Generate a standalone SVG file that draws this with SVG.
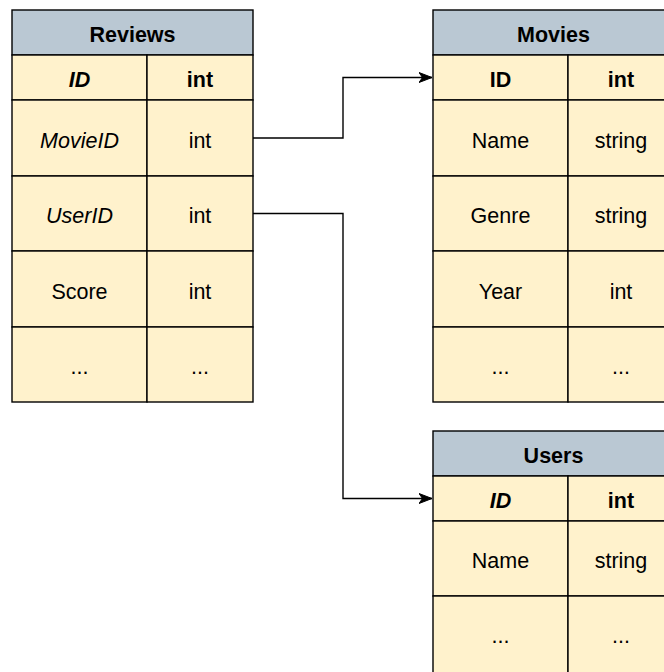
<svg xmlns="http://www.w3.org/2000/svg" width="664" height="672" viewBox="0 0 664 672">
  <style>
    .hdr { fill: #bac8d3; stroke: #000; stroke-width: 1.4; }
    .cell { fill: #fff2cc; stroke: #000; stroke-width: 1.4; }
    text { font-family: "Liberation Sans", Arial, sans-serif; font-size: 21.5px; fill: #000; text-anchor: middle; }
    .b { font-weight: bold; }
    .i { font-style: italic; }
    .edge { fill: none; stroke: #000; stroke-width: 1.4; }
  </style>
  <defs>
    <marker id="arrow" markerUnits="userSpaceOnUse" markerWidth="14" markerHeight="12" refX="13" refY="6" orient="auto">
      <path d="M0,1 L13,6 L0,11 L3.5,6 Z" fill="#000" stroke="#000" stroke-width="1"/>
    </marker>
  </defs>

  <rect width="664" height="672" fill="#fff"/>

  <!-- Reviews table -->
  <g id="reviews">
    <rect class="hdr" x="12" y="10" width="241" height="45"/>
    <text class="b" x="132.5" y="42">Reviews</text>
    <rect class="cell" x="12" y="55" width="135" height="45"/>
    <rect class="cell" x="147" y="55" width="106" height="45"/>
    <rect class="cell" x="12" y="100" width="135" height="76"/>
    <rect class="cell" x="147" y="100" width="106" height="76"/>
    <rect class="cell" x="12" y="176" width="135" height="75"/>
    <rect class="cell" x="147" y="176" width="106" height="75"/>
    <rect class="cell" x="12" y="251" width="135" height="76"/>
    <rect class="cell" x="147" y="251" width="106" height="76"/>
    <rect class="cell" x="12" y="327" width="135" height="75"/>
    <rect class="cell" x="147" y="327" width="106" height="75"/>
    <text class="b i" x="79.5" y="87">ID</text>
    <text class="b" x="200" y="87">int</text>
    <text class="i" x="79.5" y="147.5">MovieID</text>
    <text x="200" y="147.5">int</text>
    <text class="i" x="79.5" y="223">UserID</text>
    <text x="200" y="223">int</text>
    <text x="79.5" y="298.5">Score</text>
    <text x="200" y="298.5">int</text>
    <text x="79.5" y="374">...</text>
    <text x="200" y="374">...</text>
  </g>

  <!-- Movies table -->
  <g id="movies">
    <rect class="hdr" x="433" y="10" width="241" height="45"/>
    <text class="b" x="553.5" y="42">Movies</text>
    <rect class="cell" x="433" y="55" width="135" height="45"/>
    <rect class="cell" x="568" y="55" width="106" height="45"/>
    <rect class="cell" x="433" y="100" width="135" height="76"/>
    <rect class="cell" x="568" y="100" width="106" height="76"/>
    <rect class="cell" x="433" y="176" width="135" height="75"/>
    <rect class="cell" x="568" y="176" width="106" height="75"/>
    <rect class="cell" x="433" y="251" width="135" height="76"/>
    <rect class="cell" x="568" y="251" width="106" height="76"/>
    <rect class="cell" x="433" y="327" width="135" height="75"/>
    <rect class="cell" x="568" y="327" width="106" height="75"/>
    <text class="b" x="500.5" y="87">ID</text>
    <text class="b" x="621" y="87">int</text>
    <text x="500.5" y="147.5">Name</text>
    <text x="621" y="147.5">string</text>
    <text x="500.5" y="223">Genre</text>
    <text x="621" y="223">string</text>
    <text x="500.5" y="298.5">Year</text>
    <text x="621" y="298.5">int</text>
    <text x="500.5" y="374">...</text>
    <text x="621" y="374">...</text>
  </g>

  <!-- Users table -->
  <g id="users">
    <rect class="hdr" x="433" y="431" width="241" height="45"/>
    <text class="b" x="553.5" y="463">Users</text>
    <rect class="cell" x="433" y="476" width="135" height="45"/>
    <rect class="cell" x="568" y="476" width="106" height="45"/>
    <rect class="cell" x="433" y="521" width="135" height="75"/>
    <rect class="cell" x="568" y="521" width="106" height="75"/>
    <rect class="cell" x="433" y="596" width="135" height="80"/>
    <rect class="cell" x="568" y="596" width="106" height="80"/>
    <text class="b i" x="500.5" y="508">ID</text>
    <text class="b" x="621" y="508">int</text>
    <text x="500.5" y="568">Name</text>
    <text x="621" y="568">string</text>
    <text x="500.5" y="643">...</text>
    <text x="621" y="643">...</text>
  </g>

  <!-- Foreign key connectors -->
  <g id="connectors">
    <path class="edge" d="M253,138 H343 V77.5 H432" marker-end="url(#arrow)"/>
    <path class="edge" d="M253,213.5 H343 V498.5 H432" marker-end="url(#arrow)"/>
  </g>
</svg>
